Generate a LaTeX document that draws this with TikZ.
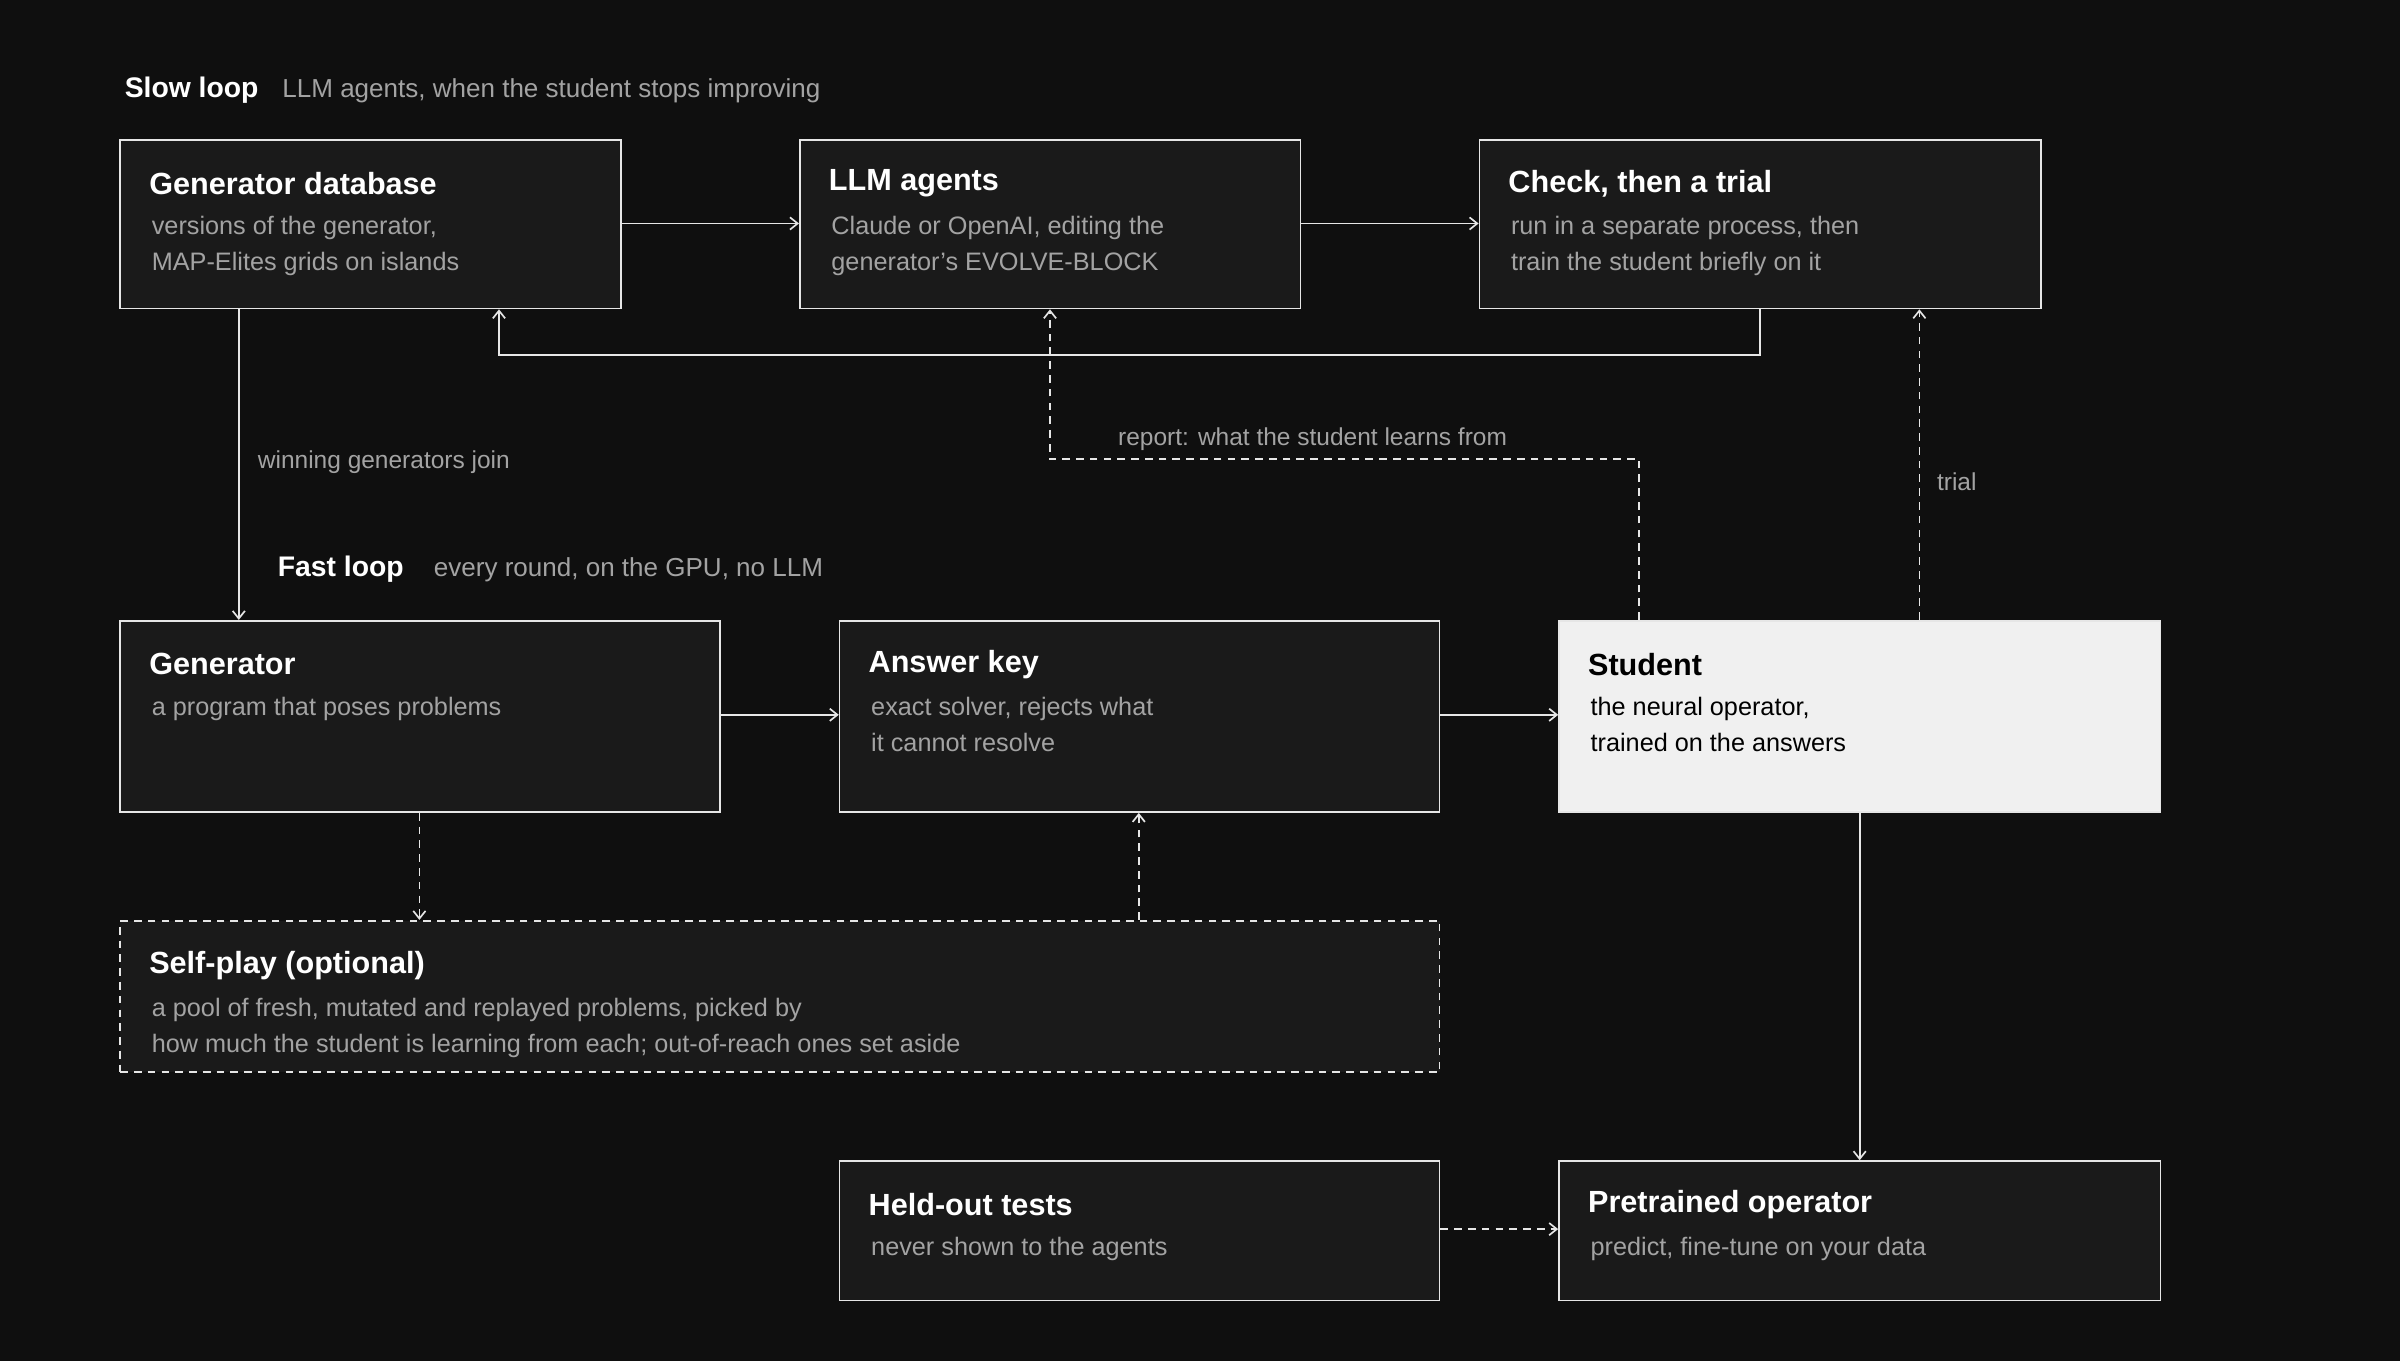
\documentclass[tikz,border=0pt]{standalone}
\usepackage{fontspec}
\setmainfont{Liberation Sans}
\usetikzlibrary{positioning,arrows.meta,calc}
\definecolor{Bg}{HTML}{0F0F0F}
\definecolor{BoxBg}{HTML}{1A1A1A}
\definecolor{Edge}{HTML}{E6E6E6}
\definecolor{Dim}{HTML}{A3A3A3}
\definecolor{Light}{HTML}{F0F0F0}

\begin{document}
\begin{tikzpicture}[x=1pt, y=-1pt,
  box/.style={draw=Edge, fill=BoxBg, line width=1.1pt, anchor=north west, inner sep=0pt},
  ttl/.style={anchor=west, text=white, font=\fontsize{20}{24}\selectfont\bfseries},
  sub/.style={anchor=north west, text=Dim, align=left, inner sep=0pt, font=\fontsize{16.5}{23.5}\selectfont},
  head/.style={anchor=west, text=white, font=\fontsize{18.5}{22}\selectfont\bfseries},
  note/.style={anchor=west, text=Dim, font=\fontsize{17}{22}\selectfont},
  lab/.style={anchor=west, text=Dim, font=\fontsize{16}{20}\selectfont},
  arr/.style={draw=Edge, line width=1.1pt, -{Straight Barb[length=5pt,width=8pt]}},
  darr/.style={arr, dash pattern=on 5pt off 4pt}]

  %%%%%%%%%% Background %%%%%%%%%%
  \fill [Bg] (0,0) rectangle (1568,889);
  \useasboundingbox (0,0) rectangle (1568,889);

  %%%%%%%%%% Slow loop %%%%%%%%%%
  \node [head] (slow) at (78,59) {Slow loop};
  \node [note] (slownote) at (181,59) {LLM agents, when the student stops improving};

  \node [box, minimum width=327pt, minimum height=110pt] (db) at (78,91) {};
  \node [ttl] at ($(db.north west)+(16,29)$) {Generator database};
  \node [sub] at ($(db.north west)+(21,50)$) {versions of the generator,\\MAP-Elites grids on islands};

  \node [box, minimum width=327pt, minimum height=110pt] (llm) at (522,91) {};
  \node [ttl] at ($(llm.north west)+(16,29)$) {LLM agents};
  \node [sub] at ($(llm.north west)+(21,50)$) {Claude or OpenAI, editing the\\generator's EVOLVE-BLOCK};

  \node [box, minimum width=367pt, minimum height=110pt] (check) at (966,91) {};
  \node [ttl] at ($(check.north west)+(16,29)$) {Check, then a trial};
  \node [sub] at ($(check.north west)+(21,50)$) {run in a separate process, then\\train the student briefly on it};

  %%%%%%%%%% Fast loop %%%%%%%%%%
  \node [head] (fast) at (178,372) {Fast loop};
  \node [note] (fastnote) at (280,372) {every round, on the GPU, no LLM};

  \node [box, minimum width=392pt, minimum height=125pt] (gen) at (78,405) {};
  \node [ttl] at ($(gen.north west)+(16,29)$) {Generator};
  \node [sub] at ($(gen.north west)+(21,50)$) {a program that poses problems};

  \node [box, minimum width=392pt, minimum height=125pt] (key) at (548,405) {};
  \node [ttl] at ($(key.north west)+(16,29)$) {Answer key};
  \node [sub] at ($(key.north west)+(21,50)$) {exact solver, rejects what\\it cannot resolve};

  \node [box, fill=Light, minimum width=393pt, minimum height=125pt] (stud) at (1018,405) {};
  \node [ttl, text=black] at ($(stud.north west)+(16,29)$) {Student};
  \node [sub, text=black] at ($(stud.north west)+(21,50)$) {the neural operator,\\trained on the answers};

  \node [box, dash pattern=on 5pt off 4pt, minimum width=862pt, minimum height=99pt] (self) at (78,601) {};
  \node [ttl] at ($(self.north west)+(16,30)$) {Self-play (optional)};
  \node [sub] at ($(self.north west)+(21,51)$) {a pool of fresh, mutated and replayed problems, picked by\\how much the student is learning from each; out-of-reach ones set aside};

  %%%%%%%%%% Outputs %%%%%%%%%%
  \node [box, minimum width=392pt, minimum height=91pt] (held) at (548,758) {};
  \node [ttl] at ($(held.north west)+(16,29)$) {Held-out tests};
  \node [sub] at ($(held.north west)+(21,50)$) {never shown to the agents};

  \node [box, minimum width=393pt, minimum height=91pt] (pre) at (1018,758) {};
  \node [ttl] at ($(pre.north west)+(16,29)$) {Pretrained operator};
  \node [sub] at ($(pre.north west)+(21,50)$) {predict, fine-tune on your data};

  %%%%%%%%%% Connectors %%%%%%%%%%
  \draw [arr] (db.east |- 0,146) -- (llm.west |- 0,146);
  \draw [arr] (llm.east |- 0,146) -- (check.west |- 0,146);
  \draw [arr] (check.south -| 1150,0) -- (1150,232) -- (326,232) -- (db.south -| 326,0);
  \draw [darr] (stud.north -| 1071,0) -- (1071,300) -- (686,300) -- (llm.south -| 686,0);
  \node [lab] (report) at (727,287) {report: what the student learns from};
  \draw [darr] (stud.north -| 1254,0) -- (check.south -| 1254,0);
  \node [lab] (trial) at (1262,315) {trial};
  \draw [arr] (db.south -| 156,0) -- (gen.north -| 156,0);
  \node [lab] (join) at (165,302) {winning generators join};
  \draw [arr] (gen.east |- 0,467) -- (key.west |- 0,467);
  \draw [arr] (key.east |- 0,467) -- (stud.west |- 0,467);
  \draw [darr] (gen.south -| 274,0) -- (self.north -| 274,0);
  \draw [darr] (self.north -| 744,0) -- (key.south -| 744,0);
  \draw [arr] (stud.south -| 1215,0) -- (pre.north -| 1215,0);
  \draw [darr] (held.east |- 0,803) -- (pre.west |- 0,803);

\end{tikzpicture}
\end{document}
